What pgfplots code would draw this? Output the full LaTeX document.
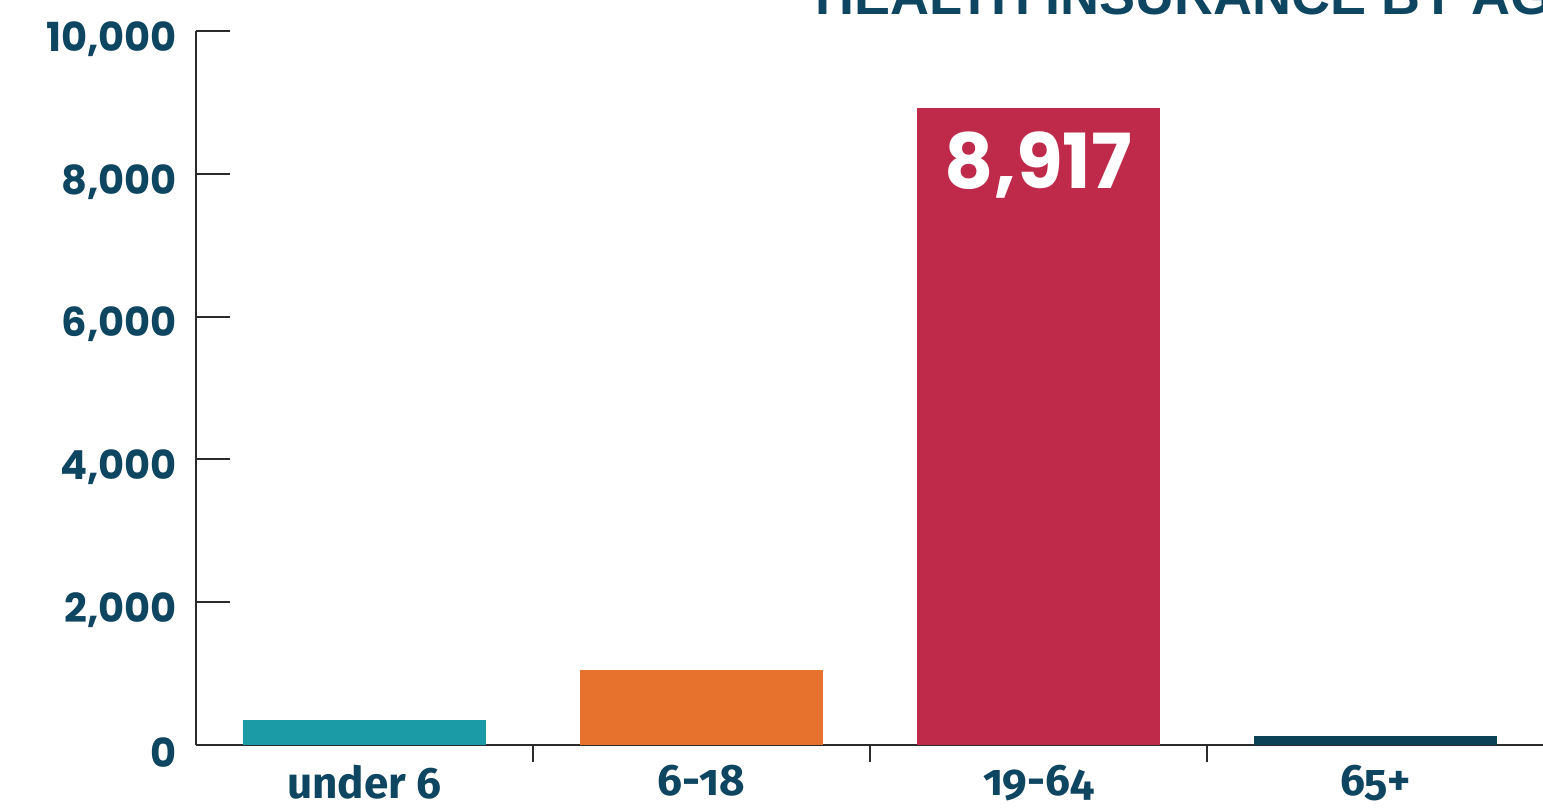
\documentclass[border=0pt]{standalone}
\usepackage{fontspec}
\setmainfont{Poppins}
\newfontfamily\labfont{Fira Sans}[Numbers=OldStyle]
\newfontfamily\titlefont{Liberation Sans}
\usepackage{pgfplots}
\pgfplotsset{compat=1.18}

\definecolor{cteal}{HTML}{1A9BA5}
\definecolor{corange}{HTML}{E6722D}
\definecolor{cred}{HTML}{BF2A4A}
\definecolor{cnavy}{HTML}{0B4258}
\definecolor{ctext}{HTML}{0E4560}
\definecolor{caxis}{HTML}{2B2B2B}

\begin{document}
\begin{tikzpicture}
\begin{axis}[
  name=ax,
  at={(0,0)}, anchor=south west,
  scale only axis,
  width=674pt, height=357pt,
  xmin=-0.5, xmax=3.5,
  ymin=0, ymax=10000,
  axis x line=bottom, axis y line=left,
  axis line style={caxis, line width=1pt, -},
  ytick={0,2000,4000,6000,8000,10000},
  scaled y ticks=false,
  yticklabel style={/pgf/number format/fixed, /pgf/number format/1000 sep={,},
    /pgf/number format/assume math mode=true,
    font=\fontsize{20}{22}\selectfont\bfseries, text=ctext, xshift=-6pt, yshift=-4pt},
  xtick={0,1,2,3},
  xticklabels={under 6, 6-18, 19-64, 65+},
  xticklabel style={font=\fontsize{22}{24}\labfont\bfseries, text=ctext, yshift=10.5pt},
  minor xtick={0.5,1.5,2.5},
  major tick style={caxis, line width=1pt},
  minor tick style={caxis, line width=1pt},
  major x tick style={draw=none},
  tick align=inside,
  major tick length=17pt,
  minor tick length=8.5pt,
  ybar, bar width=0.72, bar shift=0pt,
  clip=false,
]
\addplot[fill=cteal, draw=none] coordinates {(0,350)};
\addplot[fill=corange, draw=none] coordinates {(1,1050)};
\addplot[fill=cred, draw=none,
  nodes near coords={8,917},
  every node near coord/.style={anchor=north, yshift=-8pt, text=white,
    font=\fontsize{38}{40}\selectfont\bfseries}] coordinates {(2,8917)};
\addplot[fill=cnavy, draw=none] coordinates {(3,125)};
\end{axis}
\node[anchor=base west, inner sep=0pt, text=ctext,
  font=\fontsize{27}{29}\titlefont\bfseries] at (309.5pt,365pt) {HEALTH INSURANCE BY AGE};
\pgfresetboundingbox
\path[use as bounding box] (-98pt,-31.5pt) rectangle (673.5pt,372.5pt);
\end{tikzpicture}
\end{document}
